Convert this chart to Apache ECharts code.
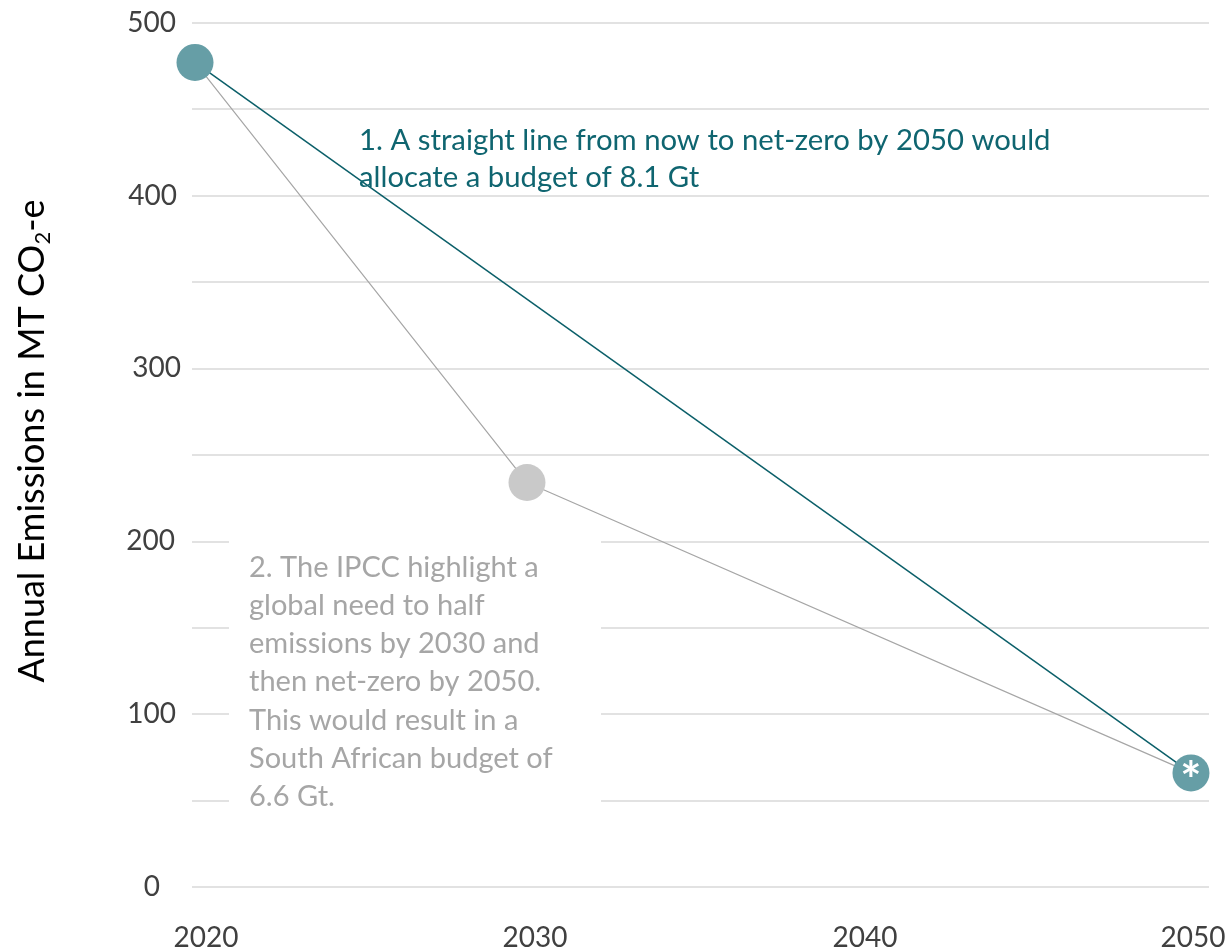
<!DOCTYPE html>
<html>
<head>
<meta charset="utf-8">
<script src="https://cdn.jsdelivr.net/npm/echarts@6/dist/echarts.min.js"></script>
<style>
  html, body { margin: 0; padding: 0; background: #ffffff; }
  #chart { width: 1230px; height: 952px; }
</style>
</head>
<body>
<div id="chart"></div>
<script>
// Pathway years and annual emissions (Mt CO2-e)
const straightYears = [2020, 2050];
const straightValues = [477, 66];

const ipccYears = [2020, 2030, 2050];
const ipccValues = [477, 234, 66];

const xTickLabels = [2020, 2030, 2040, 2050];
const yTickLabels = [0, 100, 200, 300, 400, 500];

const FONT = 'Lato, "Open Sans", sans-serif';
const TEAL_LINE = '#0b5f69';
const TEAL_DOT = '#669ea6';
const GREY_LINE = '#a6a6a6';
const GREY_DOT = '#c9c9c9';

const straightData = straightYears.map((y, i) => ({
  value: [y, straightValues[i]],
  label: i === straightYears.length - 1 ? {
    show: true, formatter: '*', position: 'inside', color: '#ffffff',
    fontSize: 50, fontWeight: 'bold', fontFamily: FONT, offset: [0, 9]
  } : { show: false }
}));

const ipccData = ipccYears.map((y, i) => ({
  value: [y, ipccValues[i]],
  symbol: y === 2030 ? 'circle' : 'none'
}));

// small per-label nudges for the axis text
const xPad = { 2020: 22, 2030: 16, 2040: 12, 2050: 4 };
const yPad = { 0: 21, 100: 5, 200: 6, 300: 0, 400: 4, 500: 5 };

const xRich = {};
xTickLabels.forEach(v => {
  xRich['x' + v] = { fontSize: 28, fontFamily: FONT, color: '#404040', padding: [0, 0, 0, xPad[v]] };
});
const yRich = {};
yTickLabels.forEach(v => {
  yRich['y' + v] = { fontSize: 28, fontFamily: FONT, color: '#404040', padding: [0, yPad[v], 0, 0] };
});

const chart = echarts.init(document.getElementById('chart'), null, { renderer: 'canvas' });

chart.setOption({
  animation: false,
  backgroundColor: '#ffffff',
  grid: { left: 192, right: 21, top: 22.7, bottom: 64.3, containLabel: false },
  xAxis: {
    type: 'value',
    min: 2019.9096,
    max: 2050.543,
    axisLine: { show: false },
    axisTick: { show: false },
    splitLine: { show: false },
    axisLabel: {
      customValues: xTickLabels,
      margin: 37,
      formatter: v => '{x' + v + '|' + v + '}',
      rich: xRich
    }
  },
  yAxis: {
    type: 'value',
    min: 0,
    max: 500,
    interval: 50,
    axisLine: { show: false },
    axisTick: { show: false },
    splitLine: { show: true, lineStyle: { color: '#d9d9d9', width: 1.5 } },
    axisLabel: {
      margin: 11,
      formatter: v => (yTickLabels.indexOf(v) >= 0 ? '{y' + v + '|' + v + '}' : ''),
      rich: yRich
    }
  },
  series: [
    {
      name: 'IPCC pathway',
      type: 'line',
      data: ipccData,
      symbolSize: 37,
      lineStyle: { color: GREY_LINE, width: 1.2 },
      itemStyle: { color: GREY_DOT },
      z: 2
    },
    {
      name: 'Straight line to net-zero',
      type: 'line',
      data: straightData,
      symbol: 'circle',
      symbolSize: 37,
      lineStyle: { color: TEAL_LINE, width: 1.5 },
      itemStyle: { color: TEAL_DOT },
      z: 3
    }
  ],
  graphic: [
    {
      type: 'text',
      x: 32,
      y: 441,
      rotation: Math.PI / 2,
      style: {
        text: '{a|Annual Emissions in MT CO}{s|2}{a|-e}',
        align: 'center',
        verticalAlign: 'middle',
        rich: {
          a: { fontSize: 36, fontFamily: FONT, color: '#404040', lineHeight: 44 },
          s: { fontSize: 22, fontFamily: FONT, color: '#404040', lineHeight: 22, verticalAlign: 'bottom' }
        }
      }
    },
    {
      type: 'text',
      x: 359,
      y: 122,
      z: 10,
      style: {
        text: '1. A straight line from now to net-zero by 2050 would\nallocate a budget of 8.1 Gt',
        fontSize: 29.3,
        lineHeight: 37,
        fontFamily: FONT,
        fill: '#0f6570',
        verticalAlign: 'top'
      }
    },
    {
      type: 'rect',
      z: 9,
      shape: { x: 229, y: 530, width: 372, height: 290 },
      style: { fill: '#ffffff' }
    },
    {
      type: 'text',
      x: 249,
      y: 548,
      z: 10,
      style: {
        text: '2. The IPCC highlight a\nglobal need to half\nemissions by 2030 and\nthen net-zero by 2050.\nThis would result in a\nSouth African budget of\n6.6 Gt.',
        fontSize: 29,
        lineHeight: 38.3,
        fontFamily: FONT,
        fill: '#a6a6a6',
        verticalAlign: 'top'
      }
    }
  ]
});
</script>
</body>
</html>
